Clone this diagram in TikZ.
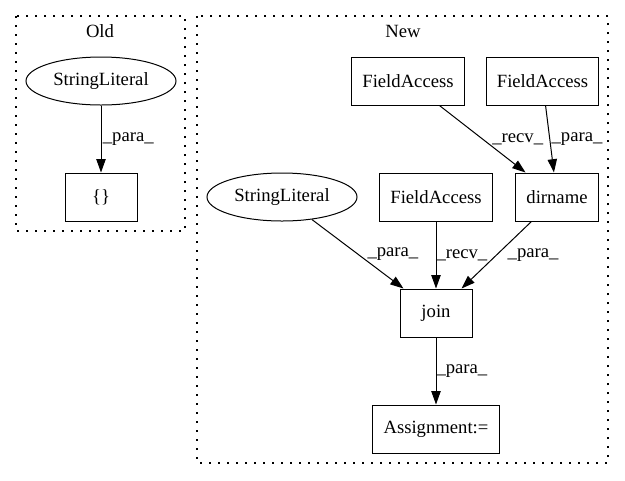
\documentclass[tikz,border=0pt]{standalone}
\usepackage{fontspec}
\setmainfont{Liberation Serif}
\usetikzlibrary{arrows.meta, shapes.geometric}

\begin{document}
\begin{tikzpicture}[x=0.75pt, y=-0.75pt, font=\fontsize{14}{16}\selectfont, line width=0.75pt,
    box node/.style={rectangle, draw, minimum width=54pt, minimum height=36pt, inner xsep=8pt},
    lit node/.style={ellipse, draw, minimum width=112.5pt, minimum height=36pt, inner sep=1pt},
    cluster/.style={draw, line width=0.9pt, dash pattern=on 1.5pt off 5.25pt},
    lbl/.style={right, inner sep=1pt},
    >={Triangle[length=10pt, width=7pt]}]
\useasboundingbox (0,0) rectangle (625,480);
\draw[cluster] (16,16) rectangle (185,231);
\draw[cluster] (197,16) rectangle (608,463);
\node (oldlabel) at (100,31) {Old};
\node (newlabel) at (403,31) {New};

\node[lit node] (oldlit) at (101,81) {StringLiteral};
\node[box node] (braces) at (101,197) {\{\}};

\node[box node] (fa1) at (408,81) {FieldAccess};
\node[box node] (fa2) at (542.5,81) {FieldAccess};
\node[box node] (dirname) at (557,197) {dirname};
\node[lit node] (newlit) at (282,197) {StringLiteral};
\node[box node] (fa3) at (436,197) {FieldAccess};
\node[box node] (join) at (436,313) {join};
\node[box node] (assign) at (436,429) {Assignment:=};

\draw[->] (oldlit) -- node[lbl] {\_para\_} (braces);
\draw[->] (fa1) -- node[lbl, xshift=6pt] {\_recv\_} (dirname);
\draw[->] (fa2) -- node[lbl] {\_para\_} (dirname);
\draw[->] (newlit) -- node[lbl, xshift=6pt] {\_para\_} (join);
\draw[->] (fa3) -- node[lbl, inner sep=0pt] {\_recv\_} (join);
\draw[->] (dirname) -- node[lbl, xshift=7pt] {\_para\_} (join);
\draw[->] (join) -- node[lbl, inner sep=0pt] {\_para\_} (assign);
\end{tikzpicture}
\end{document}
